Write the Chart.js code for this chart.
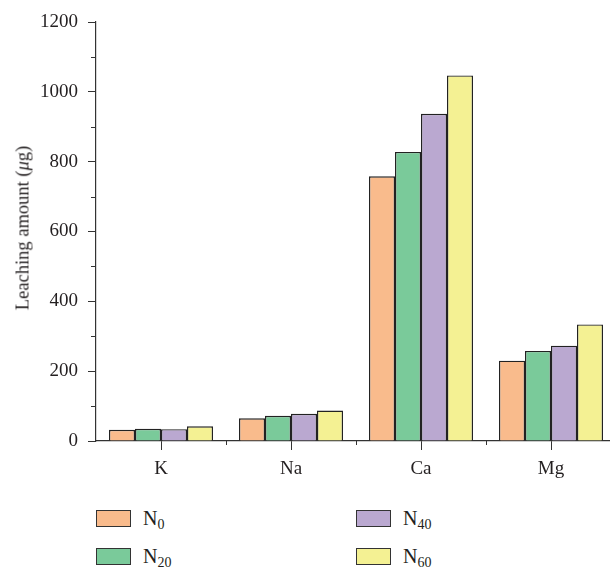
<!DOCTYPE html>
<html>
<head>
<meta charset="utf-8">
<script src="https://cdn.jsdelivr.net/npm/chart.js@4/dist/chart.umd.min.js"></script>
<style>
  body { margin: 0; width: 610px; height: 567px; overflow: hidden; background: #fff; font-family: "Liberation Serif", "DejaVu Serif", serif; }
  #wrap { position: relative; width: 616px; height: 567px; }
  #ytitle { position: absolute; left: 23px; top: 228px; transform: translate(-50%, -50%) rotate(-90deg); font-size: 18.5px; color: #231f20; white-space: nowrap; }
  #legend { position: absolute; left: 0; top: 0; }
  .item { position: absolute; display: flex; align-items: flex-start; font-size: 20px; line-height: 1; color: #231f20; }
  .box { width: 33px; height: 15px; border: 1.3px solid #333; margin-right: 12px; }
  .item span { position: relative; top: -2px; }
  .item sub { font-size: 14px; vertical-align: -4px; color: #231f20; }
</style>
</head>
<body>
<div id="wrap">
  <canvas id="chart" width="616" height="490"></canvas>
  <div id="ytitle">Leaching amount (<i>μ</i>g)</div>
  <div id="legend"></div>
</div>
<script>
// data
const elements = ["K", "Na", "Ca", "Mg"];
const seriesNames = ["N0", "N20", "N40", "N60"];
const n0 = [32, 65, 758, 230];
const n20 = [35, 72, 828, 258];
const n40 = [34, 78, 937, 273];
const n60 = [42, 87, 1047, 334];
const yTicks = [0, 200, 400, 600, 800, 1000, 1200];

const colors = ["#F9BB8C", "#7ACA9A", "#BAA8D0", "#F4F193"];
const values = [n0, n20, n40, n60];

// minor ticks (y every 100, x at category boundaries)
const minorTicks = {
  id: "minorTicks",
  afterDraw(chart) {
    const ctx = chart.ctx;
    const y = chart.scales.y, x = chart.scales.x;
    ctx.save();
    ctx.strokeStyle = "#333";
    ctx.lineWidth = 1;
    ctx.beginPath();
    for (let v = 100; v < 1200; v += 200) {
      const py = Math.round(y.getPixelForValue(v)) + 0.5;
      ctx.moveTo(y.right - 5, py);
      ctx.lineTo(y.right, py);
    }
    const half = (x.getPixelForValue(1) - x.getPixelForValue(0)) / 2;
    for (let i = 0; i < elements.length; i++) {
      const px = Math.round(x.getPixelForValue(i) + half) + 0.5;
      ctx.moveTo(px, x.top);
      ctx.lineTo(px, x.top + 4);
    }
    ctx.stroke();
    ctx.restore();
  }
};

let chart = new Chart(document.getElementById("chart"), {
  type: "bar",
  data: {
    labels: elements,
    datasets: seriesNames.map((name, i) => ({
      label: name,
      data: values[i],
      backgroundColor: colors[i],
      borderColor: "#222",
      borderWidth: 1.4,
      categoryPercentage: 0.8,
      barPercentage: 1
    }))
  },
  options: {
    responsive: false,
    animation: false,
    layout: { padding: { top: 22, right: 0, left: 0, bottom: 0 } },
    plugins: { legend: { display: false }, tooltip: { enabled: false } },
    scales: {
      x: {
        afterFit: (s) => { s.height = 49; },
        grid: { display: true, offset: false, drawOnChartArea: false, tickLength: 9, tickColor: "#333" },
        border: { color: "#333", width: 1.2 },
        ticks: { color: "#231f20", padding: 8, font: { family: "Liberation Serif", size: 19 } }
      },
      y: {
        min: 0,
        max: 1200,
        afterFit: (s) => { s.width = 96; },
        afterBuildTicks: (s) => { s.ticks = yTicks.map(v => ({ value: v })); },
        grid: { drawOnChartArea: false, tickLength: 8, tickColor: "#333" },
        border: { color: "#333", width: 1.2 },
        ticks: {
          color: "#231f20", padding: 10, font: { family: "Liberation Serif", size: 19 },
          callback: (v) => String(v)
        }
      }
    }
  },
  plugins: [minorTicks]
});

// html legend so the subscripts stay real text
const legendPos = [[96, 510], [356, 510], [96, 548], [356, 548]];
const order = [0, 2, 1, 3];
let html = "";
order.forEach((di, k) => {
  const ds = chart.data.datasets[di];
  const p = legendPos[k];
  html += `<div class="item" style="left:${p[0]}px;top:${p[1]}px">
    <div class="box" style="background:${ds.backgroundColor}"></div>
    <span>N<sub>${ds.label.slice(1)}</sub></span></div>`;
});
document.getElementById("legend").innerHTML = html;
</script>
</body>
</html>
